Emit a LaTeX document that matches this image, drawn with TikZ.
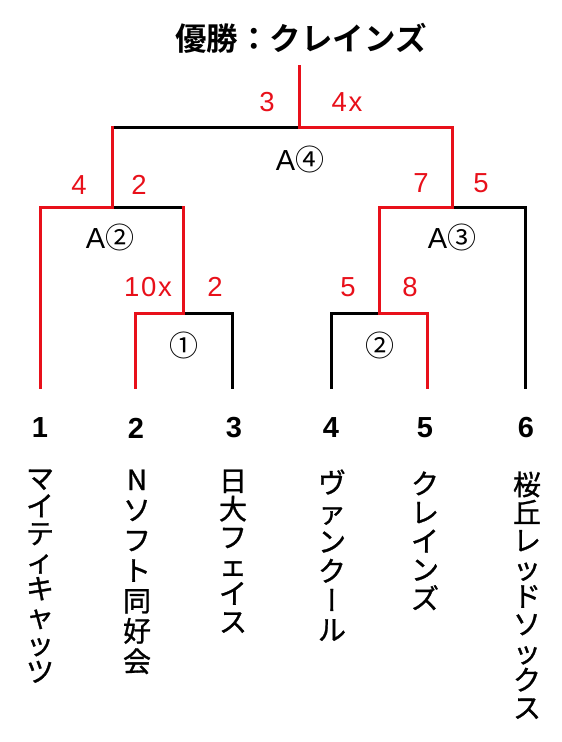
\documentclass[tikz,border=0pt]{standalone}
\usepackage{fontspec}
\setmainfont{Liberation Sans}
\newfontfamily\jp[BoldFont={Noto Sans CJK JP Bold}]{Noto Sans CJK JP}
\newfontfamily\jpm[FakeBold=1]{Noto Sans CJK JP}
\newfontfamily\jpv[RawFeature=+vert,FakeBold=1]{Noto Sans CJK JP}
\newfontfamily\lab[LetterSpace=6]{Liberation Sans}
\definecolor{bred}{HTML}{E8101A}
\begin{document}
\begin{tikzpicture}[x=1pt,y=-1pt,line width=3pt,line cap=rect,
  blk/.style={draw=black},
  rd/.style={draw=bred},
  score/.style={text=bred,font=\lab\fontsize{27.5}{27.5}\selectfont,inner sep=0pt},
  game/.style={font=\fontsize{29}{29}\selectfont,inner sep=0pt},
  seed/.style={font=\bfseries\fontsize{29}{29}\selectfont,inner sep=0pt},
  team/.style={font=\jpm\fontsize{28}{#1}\selectfont,align=center,anchor=north,inner sep=0pt}]
\useasboundingbox (0,0) rectangle (562,742);

% title
\node[font=\jp\bfseries\fontsize{31.5}{31.5}\selectfont,inner sep=0pt] (title) at (301,38) {優勝：クレインズ};

% coordinates
\coordinate (T) at (299,66);
\coordinate (A4j) at (299,127);
\coordinate (A4L) at (112,127);
\coordinate (A4R) at (452,127);
\coordinate (A2j) at (112,207);
\coordinate (A2R) at (183,207);
\coordinate (A3j) at (452,207);
\coordinate (M1j) at (183,313);
\coordinate (M2j) at (379,313);
\coordinate (L1) at (40,387);
\coordinate (L2) at (135,387);
\coordinate (L3) at (232,387);
\coordinate (L4) at (331,387);
\coordinate (L5) at (427,387);
\coordinate (L6) at (525,387);

% black lines
\draw[blk] (A4L) -- (A4j);
\draw[blk] (A2j) -- (A2R);
\draw[blk] (M1j) -| (L3);
\draw[blk] (A3j) -| (L6);
\draw[blk] (M2j) -| (L4);
% red lines
\draw[rd] (L1) |- (A2j) -- (A4L);
\draw[rd] (A2R) -- (M1j) -| (L2);
\draw[rd] (T) -- (A4j) -- (A4R) -- (A3j) -| (M2j) -| (L5);

% scores
\node[score] (s3) at (267,102) {3};
\node[score] (s4x) at (347,102) {4x};
\node[score] (s4) at (79,185) {4};
\node[score] (s2a) at (139,185) {2};
\node[score] (s7) at (421,183) {7};
\node[score] (s5a) at (481,183) {5};
\node[score] (s10x) at (148,287) {10x};
\node[score] (s2b) at (215,287) {2};
\node[score] (s5b) at (348,287) {5};
\node[score] (s8) at (410,287) {8};

% game labels
\node[game] (gA4) at (300,159) {A{\jp ④}};
\node[game] (gA2) at (110,237) {A{\jp ②}};
\node[game] (gA3) at (452,237) {A{\jp ③}};
\node[game] (g1) at (184,345) {\jp ①};
\node[game] (g2) at (380,345) {\jp ②};

% seeds
\node[seed] (n1) at (40,428) {1};
\node[seed] (n2) at (136,428) {2};
\node[seed] (n3) at (234,428) {3};
\node[seed] (n4) at (331,428) {4};
\node[seed] (n5) at (425,428) {5};
\node[seed] (n6) at (526,428) {6};

% teams
\node[team=27.6] (t1) at (40,468) {マ\\イ\\テ\\ィ\\キ\\ャ\\ッ\\ツ};
\node[team=30.3] (t2) at (137,468) {N\\ソ\\フ\\ト\\同\\好\\会};
\node[team=28.2] (t3) at (233,468) {日\\大\\フ\\ェ\\イ\\ス};
\node[team=29.4] (t4) at (332,468) {ヴ\\ァ\\ン\\ク\\{\jpv ー}\\ル};
\node[team=28.7] (t5) at (425,470) {ク\\レ\\イ\\ン\\ズ};
\node[team=27.9] (t6) at (527,470) {桜\\丘\\レ\\ッ\\ド\\ソ\\ッ\\ク\\ス};
\end{tikzpicture}
\end{document}
